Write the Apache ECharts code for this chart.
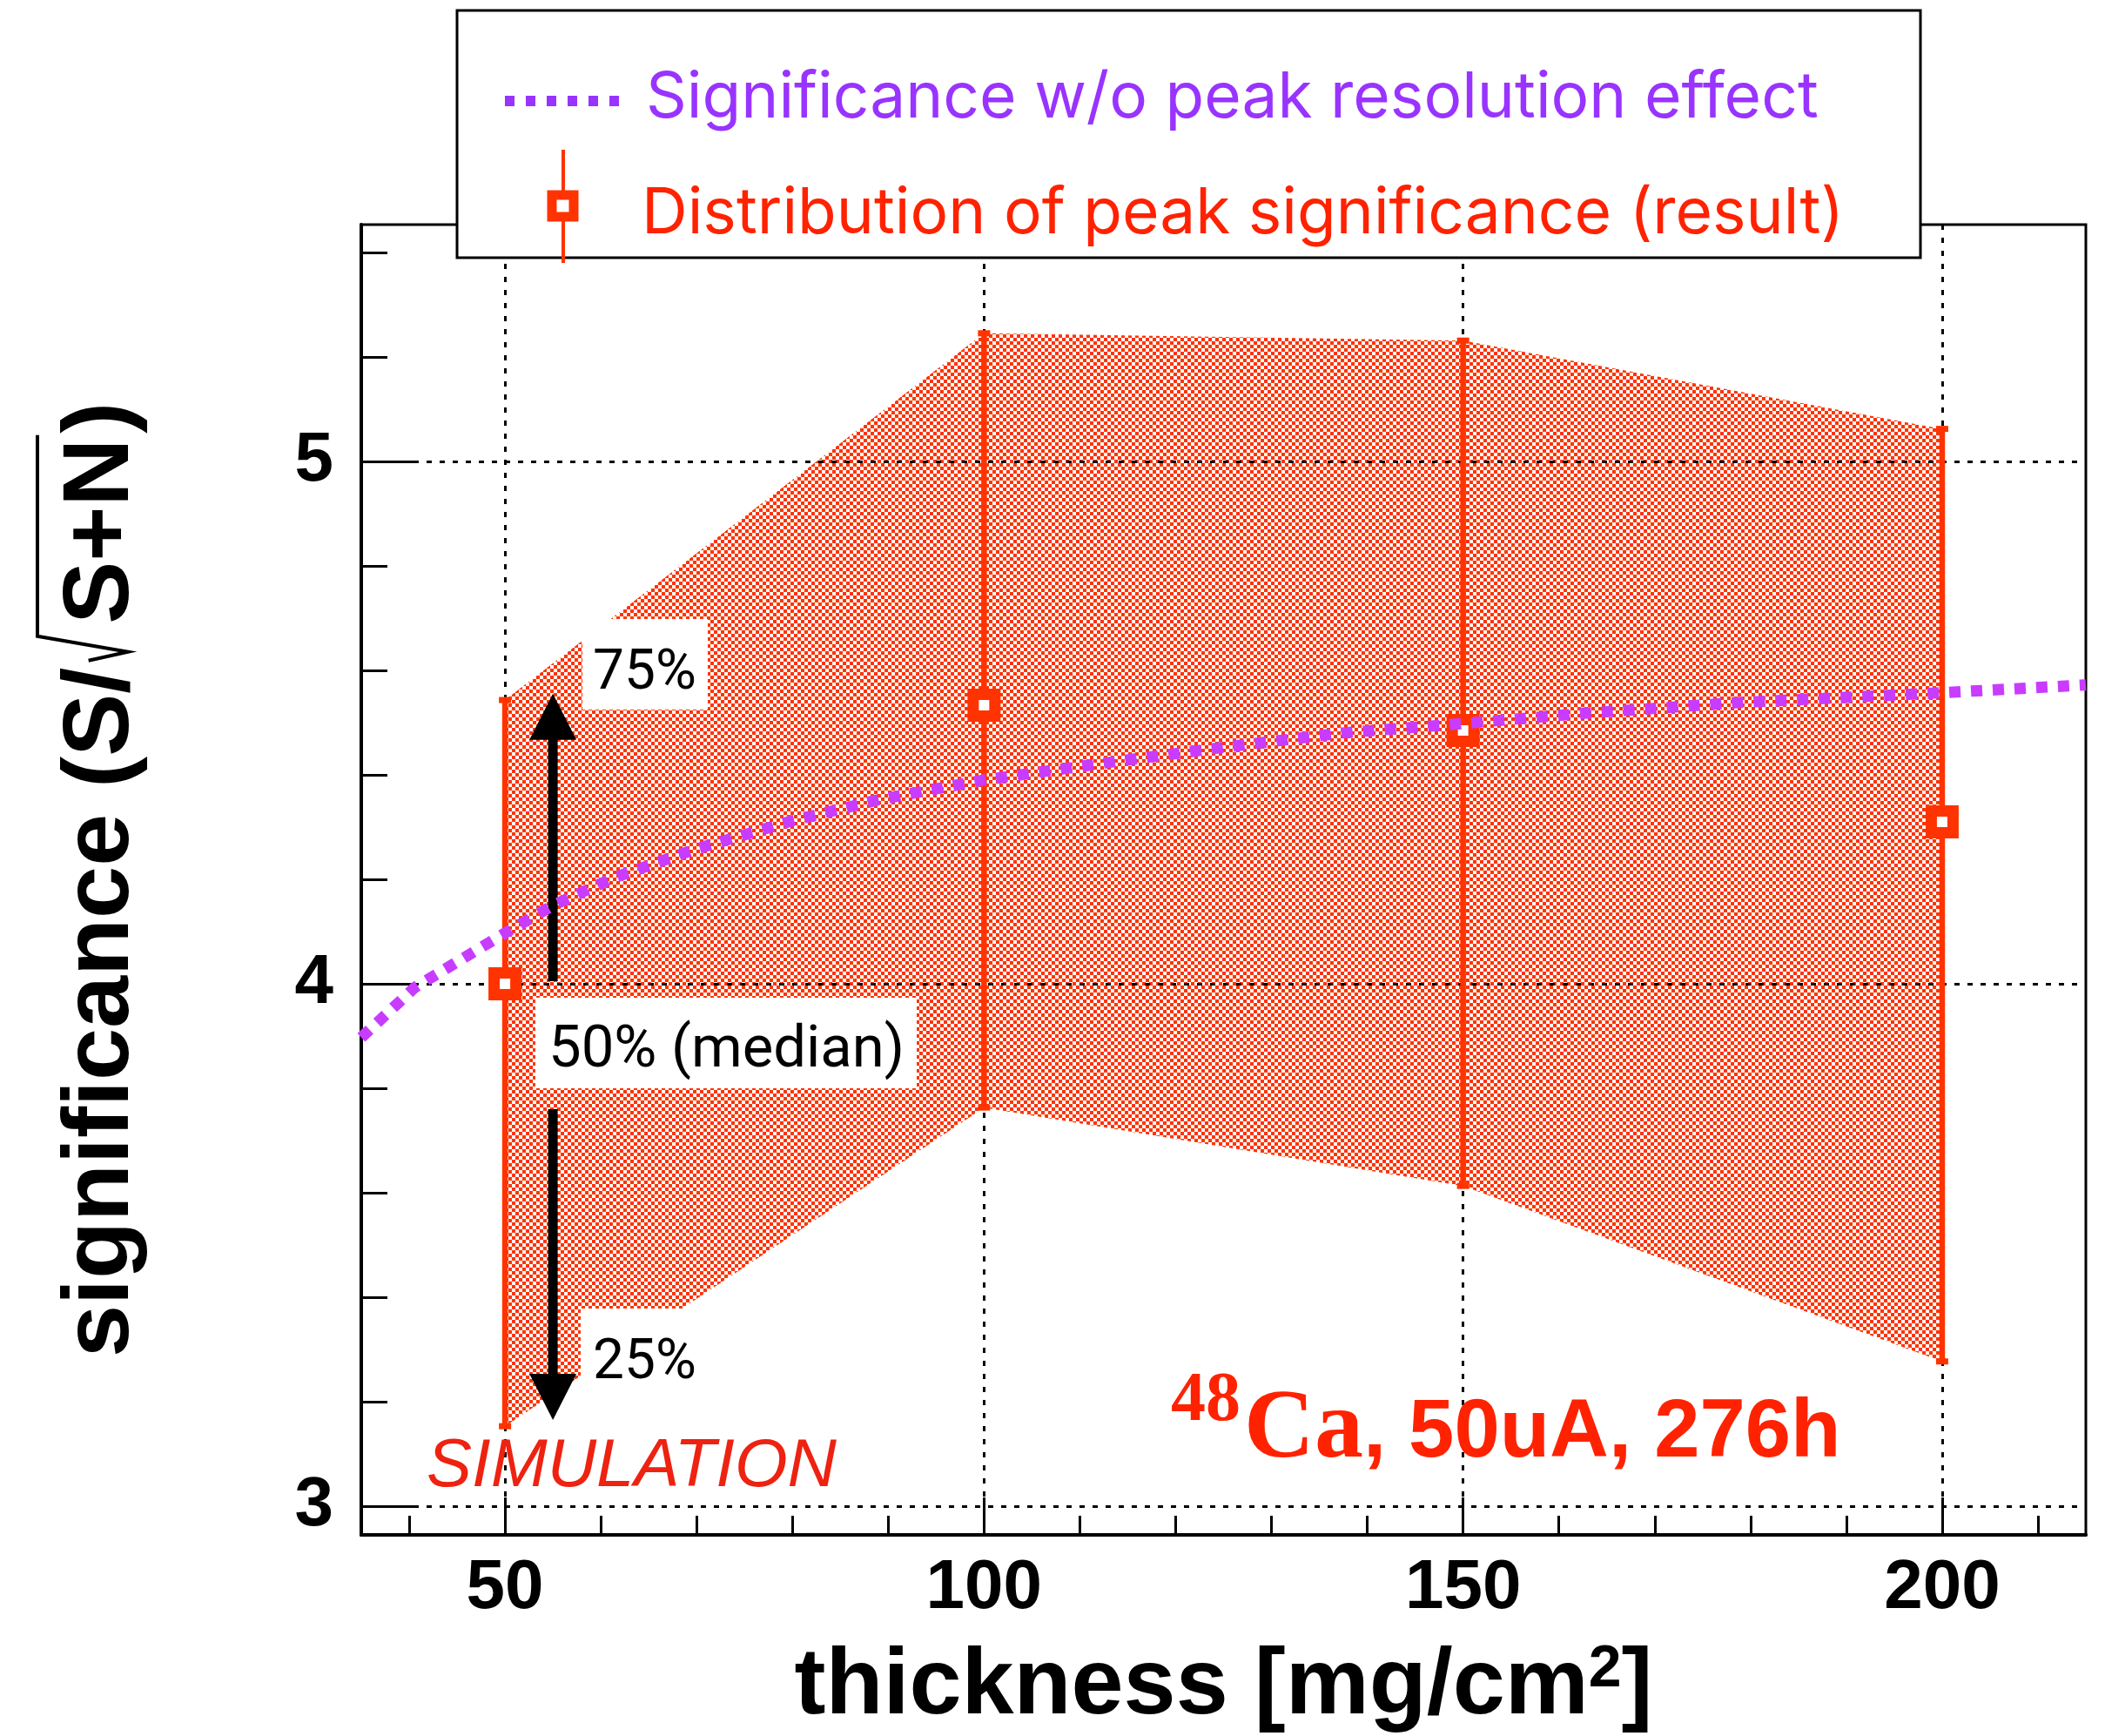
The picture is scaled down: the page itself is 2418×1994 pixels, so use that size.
<!DOCTYPE html>
<html><head><meta charset="utf-8">
<script src="https://cdn.jsdelivr.net/npm/echarts@6/dist/echarts.min.js"></script>
<style>html,body{margin:0;padding:0;background:#fff}#c{width:2418px;height:1994px}</style>
</head><body><div id="c"></div>
<script>
// ---------------- data ----------------
const thickness = [50, 100, 150, 200];
const median = [4.0, 4.533, 4.485, 4.31];
const q75 = [4.543, 5.245, 5.231, 5.062];
const q25 = [3.153, 3.763, 3.613, 3.277];
const curveX = [35, 40.6, 50, 55, 61.4, 69.8, 80, 89.2, 100, 112.8, 125.2, 137.4, 150, 162.1, 178.6, 200, 215];
const curveY = [3.897, 3.993, 4.097, 4.15, 4.203, 4.257, 4.312, 4.353, 4.39, 4.423, 4.453, 4.48, 4.498, 4.517, 4.538, 4.557, 4.572];
const xTickLabels = [50, 100, 150, 200];
const xMinorTicks = [40, 60, 70, 80, 90, 110, 120, 130, 140, 160, 170, 180, 190, 210];
const yTickLabels = [3, 4, 5];
const yMinorTicks = [3.2, 3.4, 3.6, 3.8, 4.2, 4.4, 4.6, 4.8, 5.2, 5.4];
const arrowX = [55, 55];
const arrowFrom = [4.005, 3.76];
const arrowTo = [4.555, 3.165];

// ---------------- helpers ----------------
const RED = '#ff3300';
const PURPLE = '#c83cff';
const mctx = document.createElement('canvas').getContext('2d');
function measure(font, s) { mctx.font = font; mctx.textBaseline = 'alphabetic'; return mctx.measureText(s).width; }
function baseOff(font) {
  mctx.font = font;
  mctx.textBaseline = 'alphabetic';
  const a = mctx.measureText('H').actualBoundingBoxAscent;
  mctx.textBaseline = 'middle';
  const b = mctx.measureText('H').actualBoundingBoxAscent;
  mctx.textBaseline = 'alphabetic';
  return a - b;
}
function fontStr(o) { return `${o.style || 'normal'} ${o.weight || 'normal'} ${o.size}px ${o.family}`; }
function txt(x, baseline, s, o, z) {
  const f = fontStr(o);
  return {
    type: 'text', x: x, y: baseline - baseOff(f), z: z || 6,
    style: { text: s, fontSize: o.size, fontFamily: o.family, fontWeight: o.weight || 'normal',
      fontStyle: o.style || 'normal', fill: o.color, align: 'left', verticalAlign: 'middle' }
  };
}
function checker() {
  const c = document.createElement('canvas'); c.width = 8; c.height = 8;
  const g = c.getContext('2d');
  g.fillStyle = '#fff'; g.fillRect(0, 0, 8, 8);
  g.fillStyle = RED; g.fillRect(0, 0, 4, 4); g.fillRect(4, 4, 4, 4);
  return c;
}
const pattern = { image: checker(), repeat: 'repeat' };

const bandRows = thickness.map((x, i) => [x, q25[i], q75[i]]);
const barRows = thickness.map((x, i) => [x, q25[i], q75[i], median[i]]);
const curveRows = curveX.map((x, i) => [x, curveY[i]]);
const arrowRows = arrowX.map((x, i) => [x, arrowFrom[i], arrowTo[i]]);

// ---------------- graphic annotations ----------------
const LBL = { family: 'Roboto', size: 64, color: '#000' };
const graphics = [];
graphics.push({ type: 'rect', z: 5, shape: { x: 669, y: 711, width: 144, height: 104 }, style: { fill: '#fff' } });
graphics.push({ type: 'rect', z: 5, shape: { x: 615, y: 1146, width: 438, height: 104 }, style: { fill: '#fff' } });
graphics.push({ type: 'rect', z: 5, shape: { x: 667, y: 1503, width: 144, height: 104 }, style: { fill: '#fff' } });
graphics.push(txt(681, 791, '75%', LBL));
graphics.push(txt(630, 1225, '50% (median)', { family: 'Roboto', size: 67, color: '#000' }));
graphics.push(txt(681, 1583, '25%', LBL));
graphics.push(txt(490, 1707, 'SIMULATION', { family: '"Liberation Sans"', size: 78, style: 'italic', color: '#ee2211' }));
(function () {
  const supO = { family: '"Liberation Serif"', size: 80, weight: 'bold', color: '#ff2200' };
  const caO = { family: '"Liberation Serif"', size: 112, weight: 'bold', color: '#ff2200' };
  const restO = { family: '"Liberation Sans"', size: 94, weight: 'bold', color: '#ff2200' };
  let x = 1345;
  graphics.push(txt(x, 1631, '48', supO));
  x += measure(fontStr(supO), '48') + 4;
  graphics.push(txt(x, 1673, 'Ca', caO));
  x += measure(fontStr(caO), 'Ca');
  graphics.push(txt(x, 1673, ', 50uA, 276h', restO));
})();
(function () {
  const o = { family: '"Liberation Sans"', size: 108, weight: 'bold', color: '#000' };
  const f = fontStr(o);
  const off = baseOff(f);
  mctx.font = f;
  const capH = mctx.measureText('H').actualBoundingBoxAscent;
  const t1 = 'significance (S/', t2 = 'S+N', t3 = ')';
  const w1 = measure(f, t1), w2 = measure(f, t2);
  const r0 = w1 + 8;
  const top = capH + 29;
  const sStart = r0 + 28 + 14;
  const sEnd = sStart + w2;
  const mk = (x, s) => ({ type: 'text', x: x, y: -off, style: { text: s, fontSize: o.size, fontFamily: o.family, fontWeight: 'bold', fill: '#000', align: 'left', verticalAlign: 'middle' } });
  graphics.push({
    type: 'group', x: 147, y: 1559, rotation: Math.PI / 2, z: 6,
    children: [
      mk(0, t1),
      { type: 'polyline', shape: { points: [[r0, -0.42 * o.size], [r0 + 10, 0], [r0 + 28, -top], [sEnd + 4, -top]] },
        style: { stroke: '#000', lineWidth: 4, fill: null, lineJoin: 'miter' } },
      mk(sStart, t2),
      mk(sEnd + 6, t3)
    ]
  });
})();
(function () {
  const LG = { family: 'Inter', size: 73 };
  graphics.push({ type: 'rect', z: 10, shape: { x: 525, y: 12, width: 1681, height: 284 }, style: { fill: '#fff', stroke: '#000', lineWidth: 3 } });
  graphics.push({ type: 'line', z: 11, shape: { x1: 580, y1: 116, x2: 718, y2: 116 }, style: { stroke: '#9933ff', lineWidth: 12, lineDash: [11, 13] } });
  graphics.push(txt(742, 135, 'Significance w/o peak resolution effect', Object.assign({ color: '#9933ff' }, LG), 11));
  graphics.push({ type: 'line', z: 11, shape: { x1: 647, y1: 172, x2: 647, y2: 302 }, style: { stroke: RED, lineWidth: 4 } });
  graphics.push({ type: 'rect', z: 12, shape: { x: 634, y: 224, width: 25, height: 25 }, style: { fill: '#fff', stroke: RED, lineWidth: 11 } });
  graphics.push(txt(737, 268, 'Distribution of peak significance (result)', Object.assign({ color: '#ff2200' }, LG), 11));
})();

// ---------------- chart ----------------
const chart = echarts.init(document.getElementById('c'), null, { renderer: 'canvas', width: 2418, height: 1994 });
const axisFont = { fontSize: 80, fontWeight: 'bold', fontFamily: 'Liberation Sans', color: '#000' };
const option = {
  animation: false,
  backgroundColor: '#fff',
  grid: { left: 415, top: 258, right: 22, bottom: 231, show: true, borderColor: '#000', borderWidth: 3,
    backgroundColor: 'transparent', containLabel: false, outerBoundsMode: 'none' },
  xAxis: [
    { type: 'value', min: 35, max: 215, position: 'bottom',
      axisLine: { show: true, onZero: false, lineStyle: { color: '#000', width: 4 } },
      axisTick: { show: true, inside: true, length: 43, customValues: xTickLabels, lineStyle: { color: '#000', width: 3 } },
      axisLabel: Object.assign({ show: true, customValues: xTickLabels, margin: 22 }, axisFont),
      splitLine: { show: true, lineStyle: { color: '#000', width: 3, type: [6, 9] } },
      name: 'thickness [mg/cm{sup|2}]', nameLocation: 'middle', nameGap: 121,
      nameTextStyle: { fontSize: 108, fontWeight: 'bold', fontFamily: 'Liberation Sans', color: '#000',
        rich: { sup: { fontSize: 68, fontWeight: 'bold', fontFamily: 'Liberation Sans', color: '#000', verticalAlign: 'top', lineHeight: 10 } } }
    },
    { type: 'value', min: 35, max: 215, position: 'bottom',
      axisLine: { show: false }, axisLabel: { show: false }, splitLine: { show: false },
      axisTick: { show: true, inside: true, length: 22, customValues: xMinorTicks, lineStyle: { color: '#000', width: 3 } } }
  ],
  yAxis: [
    { type: 'value', min: 2.945, max: 5.453, position: 'left',
      axisLine: { show: true, onZero: false, lineStyle: { color: '#000', width: 4 } },
      axisTick: { show: true, inside: true, length: 62, customValues: yTickLabels, lineStyle: { color: '#000', width: 3 } },
      axisLabel: Object.assign({ show: true, customValues: yTickLabels, margin: 32 }, axisFont),
      splitLine: { show: true, lineStyle: { color: '#000', width: 3, type: [6, 9] } }
    },
    { type: 'value', min: 2.945, max: 5.453, position: 'left',
      axisLine: { show: false }, axisLabel: { show: false }, splitLine: { show: false },
      axisTick: { show: true, inside: true, length: 30, customValues: yMinorTicks, lineStyle: { color: '#000', width: 3 } } }
  ],
  series: [
    {
      type: 'custom', name: 'band', z: -1, xAxisIndex: 0, yAxisIndex: 0, data: bandRows,
      renderItem: function (params, api) {
        if (params.dataIndex !== 0) return null;
        const up = bandRows.map(r => api.coord([r[0], r[2]]));
        const lo = bandRows.map(r => api.coord([r[0], r[1]])).reverse();
        return { type: 'polygon', shape: { points: up.concat(lo) }, style: { fill: pattern } };
      }
    },
    {
      type: 'custom', name: 'arrows', z: 2, data: arrowRows,
      renderItem: function (params, api) {
        const a = api.coord([api.value(0), api.value(1)]);
        const b = api.coord([api.value(0), api.value(2)]);
        const dir = Math.sign(b[1] - a[1]);
        const headLen = 53, headW = 54;
        const baseY = b[1] - dir * headLen;
        return { type: 'group', children: [
          { type: 'line', shape: { x1: a[0], y1: a[1], x2: a[0], y2: baseY + dir * 2 }, style: { stroke: '#000', lineWidth: 11 } },
          { type: 'polygon', shape: { points: [[b[0], b[1]], [b[0] - headW / 2, baseY], [b[0] + headW / 2, baseY]] }, style: { fill: '#000' } }
        ] };
      }
    },
    {
      type: 'custom', name: 'Distribution of peak significance (result)', z: 3, data: barRows,
      renderItem: function (params, api) {
        const x = api.value(0);
        const pLo = api.coord([x, api.value(1)]);
        const pHi = api.coord([x, api.value(2)]);
        const pM = api.coord([x, api.value(3)]);
        return { type: 'group', children: [
          { type: 'line', shape: { x1: pLo[0], y1: pLo[1], x2: pHi[0], y2: pHi[1] }, style: { stroke: RED, lineWidth: 6.5 } },
          { type: 'rect', shape: { x: pHi[0] - 7, y: pHi[1] - 3.5, width: 14, height: 7 }, style: { fill: RED } },
          { type: 'rect', shape: { x: pLo[0] - 7, y: pLo[1] - 3.5, width: 14, height: 7 }, style: { fill: RED } },
          { type: 'rect', shape: { x: pM[0] - 12.5, y: pM[1] - 12.5, width: 25, height: 25 }, style: { fill: '#fff', stroke: RED, lineWidth: 13 } }
        ] };
      }
    },
    {
      type: 'line', name: 'Significance w/o peak resolution effect', z: 4, data: curveRows,
      showSymbol: false, symbol: 'none', smooth: false, clip: true,
      lineStyle: { color: PURPLE, width: 13, type: [13, 12], cap: 'butt' }
    }
  ],
  graphic: graphics
};
chart.setOption(option);
</script>
</body></html>
